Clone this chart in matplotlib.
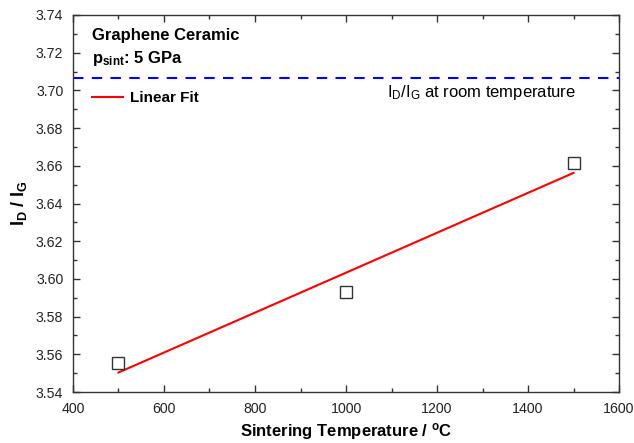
import numpy as np
import matplotlib
matplotlib.use("Agg")
import matplotlib.pyplot as plt
from matplotlib.ticker import MultipleLocator, FormatStrFormatter

plt.rcParams['font.family'] = ['Liberation Sans', 'DejaVu Sans']
plt.rcParams['mathtext.fontset'] = 'custom'
plt.rcParams['mathtext.rm'] = 'Liberation Sans'
plt.rcParams['mathtext.it'] = 'Liberation Sans'
plt.rcParams['mathtext.bf'] = 'Liberation Sans:bold'

# Sintering temperature (°C) and D/G intensity ratio
temperature = [500, 1000, 1500]
id_ig = [3.5554, 3.5932, 3.6613]
room_temp_ratio = 3.7065

W, H = 634, 443
fig = plt.figure(figsize=(W / 100, H / 100), dpi=100)
ax = fig.add_axes([73/W, 1 - 392/H, (619-73)/W, (392-15)/H])

ax.plot(temperature, id_ig, linestyle='none', marker='s', markersize=8,
        markerfacecolor='white', markeredgecolor='#333333', markeredgewidth=1.0, zorder=3)

coef = np.polyfit(temperature, id_ig, 1)
xfit = np.array([min(temperature), max(temperature)])
ax.plot(xfit, np.polyval(coef, xfit), color='#ff0000', lw=1.5, label='Linear Fit')

ax.axhline(room_temp_ratio, color='#0000ff', lw=1.5, linestyle=(0, (5, 4)))

ax.set_xlim(400, 1600)
ax.set_ylim(3.54, 3.74)
ax.xaxis.set_major_locator(MultipleLocator(200))
ax.xaxis.set_minor_locator(MultipleLocator(100))
ax.yaxis.set_major_locator(MultipleLocator(0.02))
ax.yaxis.set_minor_locator(MultipleLocator(0.01))
ax.yaxis.set_major_formatter(FormatStrFormatter('%.2f'))
ax.tick_params(which='both', direction='in', top=True, right=True, labelsize=10.2,
               colors='#333333', labelcolor='#222222')
ax.tick_params(which='major', length=5, width=1, pad=7)
ax.tick_params(which='minor', length=3, width=1)
for s in ax.spines.values():
    s.set_color('#333333')
    s.set_linewidth(1.0)

# axis titles placed in figure pixels
fig.text(346/W, 1 - 432/H, 'Sintering Temperature / $\\mathregular{^o}$C', fontsize=12,
         fontweight='bold', ha='center', va='center')
fig.text(19/W, 1 - 203/H, '$\\mathbf{I_D}$ / $\\mathbf{I_G}$', fontsize=13,
         fontweight='bold', ha='center', va='center', rotation=90)

ax.text(0.035, 0.945, 'Graphene Ceramic', transform=ax.transAxes, fontsize=12, fontweight='bold', va='center')
ax.text(0.035, 0.885, '$\\mathbf{p_{sint}}$: 5 GPa', transform=ax.transAxes, fontsize=12, fontweight='bold', va='center')
ax.text(0.575, 0.795, '$\\mathregular{I_D/I_G}$ at room temperature', transform=ax.transAxes, fontsize=12, va='center')

leg = ax.legend(loc='upper left', bbox_to_anchor=(0.01, 0.835), frameon=False,
                prop={'weight': 'bold', 'size': 11}, handlelength=2.0, handletextpad=0.5)

fig.savefig('out.png', dpi=100)
